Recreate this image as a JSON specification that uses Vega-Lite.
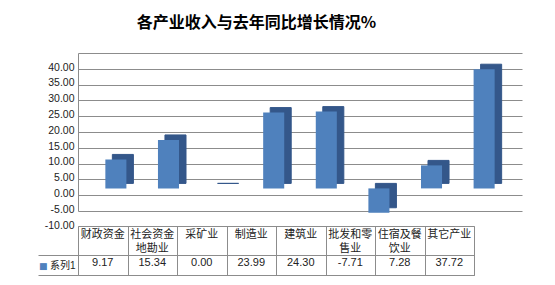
{
  "$schema": "https://vega.github.io/schema/vega-lite/v6.json",
  "padding": {"left": 37, "top": 15, "right": 34, "bottom": 4},
  "bounds": "flush",
  "spacing": 15,
  "title": {"text": "各产业收入与去年同比增长情况%", "font": "Noto Sans CJK SC", "fontSize": 16, "fontWeight": "bold", "color": "#000000", "anchor": "middle", "dx": -23, "offset": 22},
  "datasets": {
    "d": [
      {"cat": "财政资金", "label": "财政资金", "value": 9.17},
      {"cat": "社会资金地勘业", "label": "社会资金\n地勘业", "value": 15.34},
      {"cat": "采矿业", "label": "采矿业", "value": 0.0},
      {"cat": "制造业", "label": "制造业", "value": 23.99},
      {"cat": "建筑业", "label": "建筑业", "value": 24.30},
      {"cat": "批发和零售业", "label": "批发和零\n售业", "value": -7.71},
      {"cat": "住宿及餐饮业", "label": "住宿及餐\n饮业", "value": 7.28},
      {"cat": "其它产业", "label": "其它产业", "value": 37.72}
    ]
  },
  "config": {
    "view": {"stroke": null},
    "font": "Liberation Sans, Noto Sans CJK SC",
    "locale": {"number": {"decimal": ".", "thousands": ",", "grouping": [3], "currency": ["", ""], "minus": "-"}}
  },
  "vconcat": [
    {
      "width": 444,
      "height": 158,
      "data": {"name": "d"},
      "encoding": {
        "x": {"field": "cat", "type": "nominal", "sort": null, "scale": {"paddingInner": 0.6, "paddingOuter": 0.52}, "axis": null},
        "y": {
          "field": "value", "type": "quantitative",
          "scale": {"domain": [-10, 40], "nice": false},
          "axis": {"values": [-10, -5, 0, 5, 10, 15, 20, 25, 30, 35, 40], "format": ".2f", "grid": true, "gridColor": "#8c8c8c", "gridWidth": 1, "ticks": false, "domain": true, "domainColor": "#8c8c8c", "labelPadding": 4, "labelOffset": 14, "labelFlush": false, "labelOverlap": false, "labelBound": false, "labelBaseline": "middle", "labelAlign": "right", "labelFontSize": 10.5, "labelColor": "#222222", "labelFont": "Liberation Sans", "title": null}
        }
      },
      "layer": [
        {"mark": {"type": "bar", "color": "#34578A", "xOffset": 7, "yOffset": 4, "stroke": "#34578A", "strokeWidth": 1}},
        {"mark": {"type": "bar", "color": "#4F81BD", "yOffset": 9}}
      ]
    },
    {
      "width": 396,
      "height": 49,
      "view": {"stroke": "#8c8c8c"},
      "data": {"name": "d"},
      "encoding": {
        "x": {"field": "cat", "type": "nominal", "sort": null, "scale": {"paddingInner": 0, "paddingOuter": 0}, "axis": {"grid": true, "tickBand": "extent", "gridColor": "#8c8c8c", "labels": false, "ticks": false, "domain": false, "title": null}}
      },
      "layer": [
        {
          "mark": {"type": "text", "baseline": "top", "lineBreak": "\n", "lineHeight": 14, "fontSize": 11, "color": "#222222", "dy": -2},
          "encoding": {
            "y": {"datum": "a", "type": "nominal", "scale": {"domain": ["a", "b", "c", "d", "e"]}, "axis": {"values": ["c", "e"], "tickOffset": 4.9, "grid": true, "gridColor": "#8c8c8c", "ticks": true, "tickSize": 40, "tickColor": "#8c8c8c", "domain": false, "labelExpr": "datum.value == 'e' ? '系列1' : ''", "labelOffset": -10, "labelPadding": -37, "labelFontSize": 10, "labelColor": "#222222", "title": null}},
            "text": {"field": "label"}
          }
        },
        {
          "mark": {"type": "text", "fontSize": 11, "color": "#222222", "dy": 3},
          "encoding": {
            "y": {"datum": "d", "type": "nominal", "scale": {"domain": ["a", "b", "c", "d", "e"]}, "axis": null},
            "text": {"field": "value", "type": "quantitative", "format": ".2f"}
          }
        },
        {
          "mark": {"type": "text", "text": ""},
          "encoding": {
            "y": {"datum": "e", "type": "nominal", "scale": {"domain": ["a", "b", "c", "d", "e"]}, "axis": {"orient": "left", "values": ["e"], "labelExpr": "'■'", "labelColor": "#4F81BD", "labelOffset": -5, "labelPadding": 31, "ticks": false, "domain": false, "grid": false, "title": null, "labelFont": "DejaVu Sans", "labelFontSize": 9}}
          }
        }
      ],
      "resolve": {"scale": {"y": "independent"}}
    }
  ]
}
